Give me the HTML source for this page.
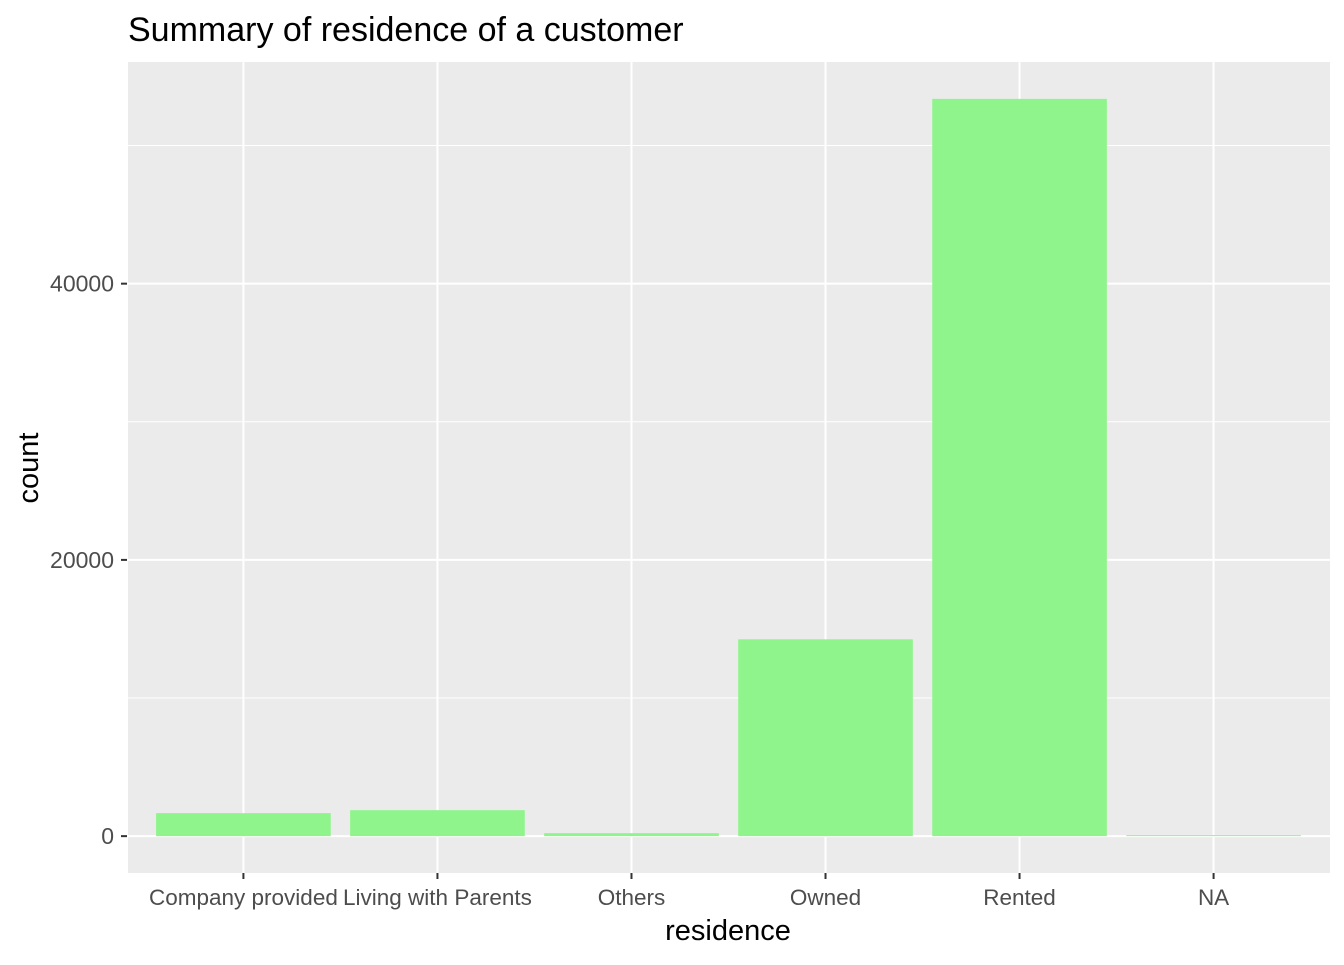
<!DOCTYPE html>
<html><head><meta charset="utf-8"><style>
body{margin:0;background:#fff;}
svg text{font-family:"Liberation Sans",Arial,sans-serif;}
</style></head><body>
<svg id="chart" width="1344" height="960">
<rect width="1344" height="960" fill="#fff"/>
<text x="128" y="41" font-size="34" fill="#000">Summary of residence of a customer</text>
<rect x="128" y="62" width="1202" height="811" fill="#ebebeb"/>
<g id="grid"></g>
<g id="bars"></g>
<g id="axes"></g>
<text x="728" y="940" font-size="29" text-anchor="middle" fill="#000">residence</text>
<text transform="translate(38,468) rotate(-90)" font-size="29" text-anchor="middle" fill="#000">count</text>
</svg>
<script>
const categories=["Company provided","Living with Parents","Others","Owned","Rented","NA"];
const counts=[1664,1880,217,14250,53380,72];
const yTicks=[0,20000,40000];
const yMinor=[10000,30000,50000];
const NS="http://www.w3.org/2000/svg";
const px0=127,px1=1330,py0=62,py1=873;
const maxV=Math.max(...counts),span=maxV*1.1,lo=-maxV*0.05;
function y(v){return py1-(v-lo)/span*(py1-py0);}
const step=(px1-px0)/(categories.length+0.2);
function x(i){return px0+step*(0.6+i);}
function mk(tag,attrs,parent){const e=document.createElementNS(NS,tag);for(const k in attrs)e.setAttribute(k,attrs[k]);document.getElementById(parent).appendChild(e);return e;}
yMinor.forEach(v=>{const l=mk('line',{x1:px0,x2:px1,y1:y(v),y2:y(v),stroke:'#fff','stroke-width':1},'grid');

});
yTicks.forEach(v=>{const l=mk('line',{x1:px0,x2:px1,y1:y(v),y2:y(v),stroke:'#fff','stroke-width':2},'grid');


const t=mk('line',{x1:121,x2:127,y1:y(v),y2:y(v),stroke:'#333','stroke-width':2},'axes');


const tx=mk('text',{x:114,y:y(v)+8,'font-size':23,'text-anchor':'end',fill:'#4d4d4d'},'axes');tx.textContent=v;

});
categories.forEach((c,i)=>{const cx=x(i);
const g=mk('line',{x1:cx,x2:cx,y1:py0,y2:py1,stroke:'#fff','stroke-width':2},'grid');


const w=step*0.9;
const b=mk('rect',{x:cx-w/2,y:y(counts[i]),width:w,height:y(0)-y(counts[i]),fill:'#8ff48b'},'bars');


const t=mk('line',{x1:cx,x2:cx,y1:873,y2:879,stroke:'#333','stroke-width':2},'axes');


const tx=mk('text',{x:cx,y:905,'font-size':22.5,'text-anchor':'middle',fill:'#4d4d4d'},'axes');tx.textContent=c;

});
</script>
</body></html>
